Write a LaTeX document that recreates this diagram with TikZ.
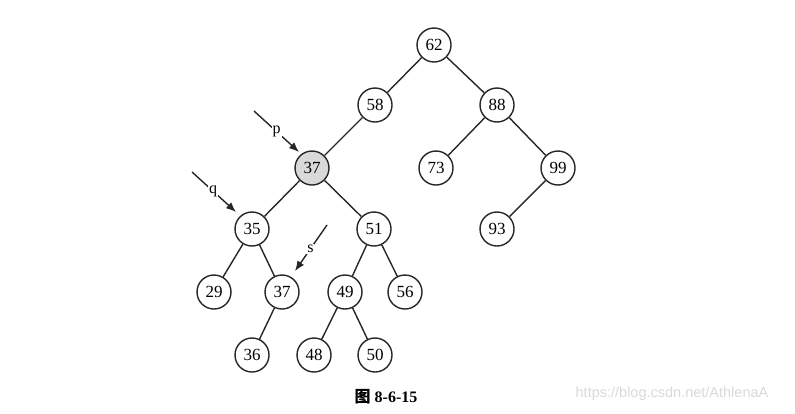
\documentclass[tikz,border=0pt]{standalone}
\usepackage{fontspec}
\setmainfont{Liberation Serif}
\newfontfamily\cjkfont{Noto Sans CJK SC}
\newfontfamily\wmfont{Liberation Sans}
\usetikzlibrary{arrows.meta}
\begin{document}
\begin{tikzpicture}[x=1pt,y=-1pt,
  tn/.style={circle,draw=black!85,line width=1.4pt,minimum size=34pt,inner sep=0pt,font=\fontsize{17}{17}\selectfont},
  hl/.style={fill=black!15},
  edge/.style={line width=1.4pt,draw=black!85},
  ptr/.style={line width=1.4pt,draw=black!85,-{Latex[length=10pt,width=8pt]}},
  plab/.style={fill=white,inner sep=1pt,font=\fontsize{16}{16}\selectfont}]
\useasboundingbox (0,0) rectangle (795,413);
\node[tn] (n62) at (434,45) {62};
\node[tn] (n58) at (375,105) {58};
\node[tn] (n88) at (497,105) {88};
\node[tn,hl] (n37) at (312,168) {37};
\node[tn] (n73) at (436,168) {73};
\node[tn] (n99) at (558,168) {99};
\node[tn] (n35) at (252,229) {35};
\node[tn] (n51) at (374,229) {51};
\node[tn] (n93) at (497,229) {93};
\node[tn] (n29) at (214,292) {29};
\node[tn] (n37b) at (282,292) {37};
\node[tn] (n49) at (345,292) {49};
\node[tn] (n56) at (405,292) {56};
\node[tn] (n36) at (252,355) {36};
\node[tn] (n48) at (314,355) {48};
\node[tn] (n50) at (375,355) {50};
\draw[edge] (n62)--(n58);
\draw[edge] (n62)--(n88);
\draw[edge] (n58)--(n37);
\draw[edge] (n88)--(n73);
\draw[edge] (n88)--(n99);
\draw[edge] (n37)--(n35);
\draw[edge] (n37)--(n51);
\draw[edge] (n99)--(n93);
\draw[edge] (n35)--(n29);
\draw[edge] (n35)--(n37b);
\draw[edge] (n51)--(n49);
\draw[edge] (n51)--(n56);
\draw[edge] (n37b)--(n36);
\draw[edge] (n49)--(n48);
\draw[edge] (n49)--(n50);
\coordinate (ps) at (254,111);
\coordinate (pt) at (299,152);
\coordinate (qs) at (192,172);
\coordinate (qt) at (236,212);
\coordinate (ss) at (327,225);
\coordinate (st) at (295,271);
\draw[ptr] (ps) -- node[plab,pos=0.5]{p} (pt);
\draw[ptr] (qs) -- node[plab,pos=0.48]{q} (qt);
\draw[ptr] (ss) -- node[plab,pos=0.52]{s} (st);
\node[font=\fontsize{16}{16}\selectfont\bfseries] (cap) at (386,397) {{\cjkfont 图} 8-6-15};
\node[font=\wmfont\fontsize{14.5}{14.5}\selectfont,text=black!15] (wm) at (672,394) {https://blog.csdn.net/AthlenaA};
\end{tikzpicture}
\end{document}
